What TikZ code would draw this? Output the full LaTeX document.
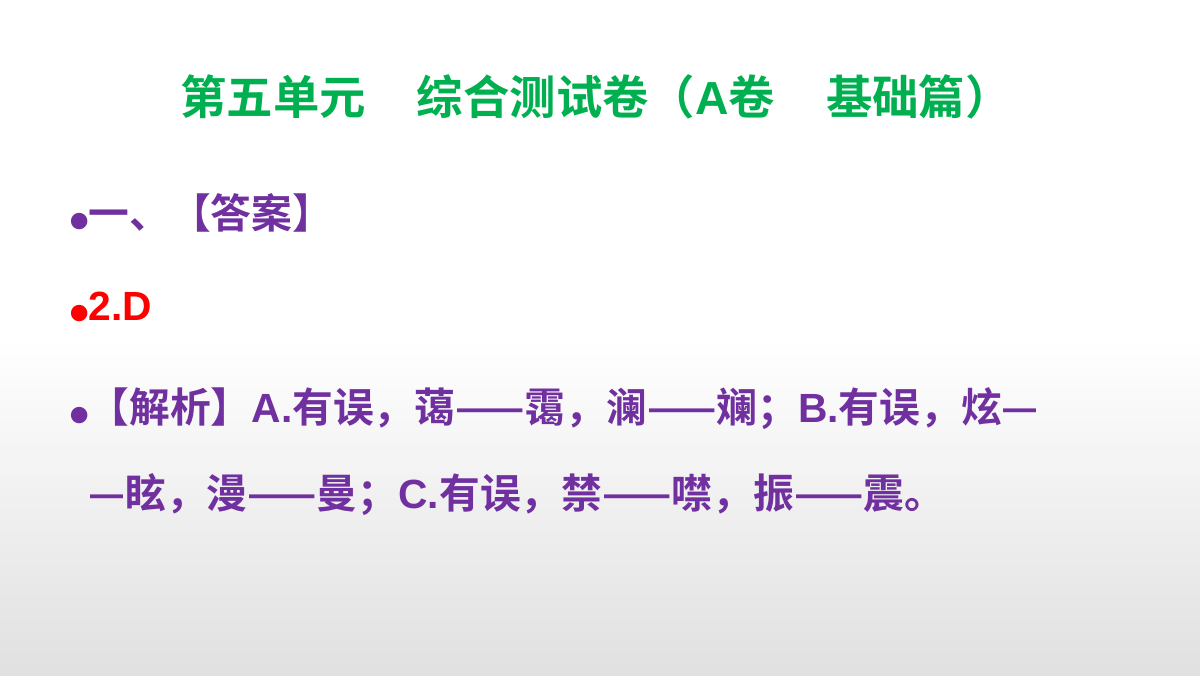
\documentclass[tikz,border=0pt]{standalone}
\usepackage{fontspec}
\newfontfamily\cjk{Noto Sans CJK SC}[BoldFont={Noto Sans CJK SC Bold}]
\newfontfamily\lat{Liberation Sans}
\usetikzlibrary{positioning}
\definecolor{TitleGreen}{HTML}{00B050}
\definecolor{DarkPurple}{HTML}{7030A0}
\definecolor{BrightRed}{HTML}{FF0000}
\newcommand{\bul}{{\fontsize{13}{13}\selectfont●}}
\newcommand{\lt}[1]{{\lat\bfseries #1}}
\tikzset{
  title/.style={font=\cjk\bfseries\fontsize{33}{38}\selectfont, text=TitleGreen},
  item/.style={anchor=west, inner sep=0pt, font=\cjk\bfseries\fontsize{29}{34}\selectfont, text=DarkPurple}
}
\begin{document}
\begin{tikzpicture}
  \useasboundingbox (0,0) rectangle (30,16.875);
  \shade[top color=white, bottom color=black!12, middle color=white] (0,0) rectangle (30,16.875);

  \node[title] (title) at (14.9,14.45) {第五单元\hspace{1.1em}综合测试卷（\lt{A}卷\hspace{1.1em}基础篇）};

  \node[item] (answer) at (1.75,11.55) {\bul 一、【答案】};
  \node[item, text=BrightRed] (choice) at (1.75,9.2) {\bul \lt{2.D}};
  \node[item] (note) at (1.75,6.65) {\bul 【解析】\lt{A.}有误，蔼——霭，澜——斓；\lt{B.}有误，炫—};
  \node[item] (notecont) at (2.2,4.5) {—眩，漫——曼；\lt{C.}有误，禁——噤，振——震。};
\end{tikzpicture}
\end{document}
